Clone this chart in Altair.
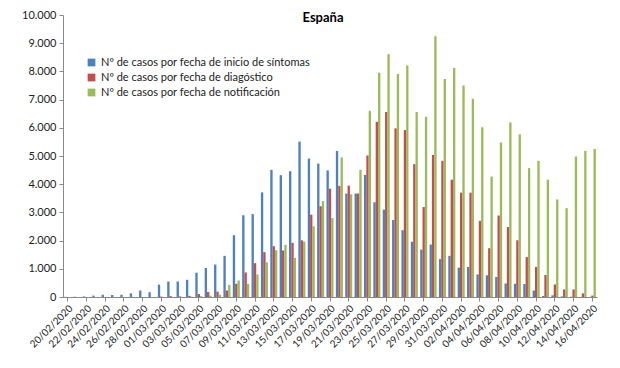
import altair as alt
import pandas as pd

dates = [d.strftime("%d/%m/%Y") for d in pd.date_range("2020-02-20", "2020-04-16", freq="D")]

series = [
    "Nº de casos por fecha de inicio de síntomas",
    "Nº de casos por fecha de diagóstico",
    "Nº de casos por fecha de notificación",
]
colors = ["#4F81BD", "#C0504D", "#9BBB59"]

sintomas = [5, 10, 20, 50, 80, 70, 80, 130, 230, 170,
            440, 550, 550, 610, 860, 1030, 1150, 1460, 2190, 2900,
            2940, 3710, 4510, 4320, 4460, 5510, 4910, 4730, 4490, 5180,
            3670, 3670, 4330, 3360, 3100, 2730, 2370, 1960, 1680, 1860,
            1345, 1460, 1040, 1065, 800, 770, 710, 480, 470, 460,
            230, 35, 60, 20, 10, 5, 5]
diagnostico = [0, 0, 0, 0, 0, 0, 0, 0, 0, 0,
               15, 30, 20, 40, 105, 175, 190, 230, 470, 870,
               1200, 1590, 1800, 1650, 1920, 2010, 2920, 3220, 3840, 3940,
               3950, 3670, 5020, 6210, 6560, 5980, 5920, 4710, 3190, 5040,
               4830, 4160, 3700, 3700, 2700, 1730, 2890, 2480, 2010, 1415,
               1065, 780, 445, 270, 270, 130, 50]
notificacion = [0, 0, 0, 0, 0, 0, 0, 0, 0, 0,
                0, 0, 0, 10, 30, 50, 80, 430, 585, 460,
                800, 1230, 1660, 1850, 1390, 1960, 2510, 3400, 2800, 4950,
                3640, 4510, 6600, 7950, 8610, 7910, 8210, 6560, 6390, 9250,
                7730, 8120, 7500, 7030, 6020, 4270, 5480, 6190, 5770, 4570,
                4830, 4160, 3460, 3150, 4980, 5180, 5250]

rows = []
for s, vals in zip(series, [sintomas, diagnostico, notificacion]):
    for d, v in zip(dates, vals):
        rows.append({"fecha": d, "serie": s, "valor": v})
df = pd.DataFrame(rows)

FONT = "Lato"

chart = alt.Chart(df).mark_bar().encode(
    x=alt.X("fecha:N", sort=dates, title=None,
            scale=alt.Scale(paddingInner=0.25, paddingOuter=0.12),
            axis=alt.Axis(values=dates[::2], labelAngle=-45, labelFontSize=10,
                          labelColor="#222222", domainColor="#888888", tickColor="#888888",
                          tickSize=4, labelPadding=2, labelFont=FONT)),
    xOffset=alt.XOffset("serie:N", sort=series, scale=alt.Scale(paddingInner=0, paddingOuter=0)),
    y=alt.Y("valor:Q", title=None,
            scale=alt.Scale(domain=[0, 10000], nice=False),
            axis=alt.Axis(values=list(range(0, 10001, 1000)), grid=False,
                          labelExpr="datum.value == 0 ? '0' : format(datum.value/1000, 'd') + '.000'",
                          labelFontSize=11, labelColor="#222222", domainColor="#888888",
                          tickColor="#888888", tickSize=4, labelPadding=3, labelFont=FONT)),
    color=alt.Color("serie:N", sort=series,
                    scale=alt.Scale(domain=series, range=colors),
                    legend=alt.Legend(title=None, orient="none", legendX=23, legendY=42,
                                      symbolType="square", symbolSize=60, symbolStrokeWidth=0,
                                      labelFontSize=11, labelFont=FONT, labelColor="#222222",
                                      rowPadding=3, labelLimit=400)),
).properties(
    width=534,
    height=282,
    title=alt.TitleParams("España", fontSize=13, fontWeight="bold", font=FONT,
                          anchor="middle", baseline="middle", offset=0, dy=22, dx=-7),
    autosize=alt.AutoSizeParams(type="none"),
    padding={"left": 55, "top": 7, "right": 15, "bottom": 71},
).configure_view(stroke=None)

chart.save("out.html", embed_options={"renderer": "svg", "actions": False})
